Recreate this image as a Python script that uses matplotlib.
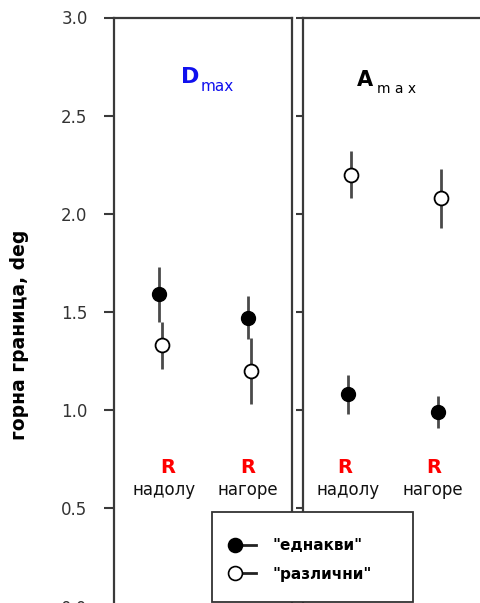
import matplotlib
matplotlib.use("Agg")
import matplotlib.pyplot as plt
from matplotlib.lines import Line2D
from matplotlib.patches import Rectangle
from matplotlib.legend_handler import HandlerBase

plt.rcParams['font.family'] = ['DejaVu Sans']

# ---- data ----
panels = ["Dmax", "Amax"]
conditions = ["надолу", "нагоре"]
same_vals = {"Dmax": [1.59, 1.47], "Amax": [1.08, 0.99]}
same_err = {"Dmax": [0.14, 0.11], "Amax": [0.10, 0.08]}
diff_vals = {"Dmax": [1.33, 1.20], "Amax": [2.20, 2.08]}
diff_err = {"Dmax": [0.12, 0.17], "Amax": [0.12, 0.15]}
yticks = [0.0, 0.5, 1.0, 1.5, 2.0, 2.5, 3.0]
ytick_labels = ["0.0", "0.5", "1.0", "1.5", "2.0", "2.5", "3.0"]
legend_labels = ['"еднакви"', '"различни"']

W, H = 480, 603
fig = plt.figure(figsize=(W / 100, H / 100), dpi=100)

spine_col = "#3a3a3a"
err_col = "#4a4a4a"

def fx(px):
    return px / W

def fy(py):
    return 1 - py / H

ax_bottom = fy(606.5)
ax_height = (606.5 - 17.5) / H
ax1 = fig.add_axes([fx(114), ax_bottom, fx(292) - fx(114), ax_height])
ax2 = fig.add_axes([fx(303), ax_bottom, fx(483) - fx(303), ax_height])

xs = [0, 1]
off = 0.035
for ax, name in zip([ax1, ax2], panels):
    ax.set_xlim(-0.5, 1.5)
    ax.set_ylim(0, 3.0)
    ax.set_xticks([])
    ax.set_yticks(yticks)
    for s in ax.spines.values():
        s.set_color(spine_col)
        s.set_linewidth(1.6)
    ax.spines['bottom'].set_visible(False)
    ax.errorbar([x + off for x in xs], diff_vals[name], yerr=diff_err[name],
                fmt='o', ms=10, mfc='white', mec='black', mew=1.3,
                ecolor=err_col, elinewidth=2.0, capsize=0, zorder=3)
    ax.errorbar(xs, same_vals[name], yerr=same_err[name],
                fmt='o', ms=10, mfc='black', mec='black',
                ecolor=err_col, elinewidth=2.0, capsize=0, zorder=4)

ax1.set_yticklabels(ytick_labels, fontsize=12, color="#333333")
ax1.tick_params(axis='y', direction='out', length=7, width=1.5,
                color=spine_col, pad=12)
ax2.set_yticklabels([])
ax2.tick_params(axis='y', direction='out', length=5, width=1.5,
                color=spine_col)
ax2.spines['right'].set_visible(False)

# condition labels
r_dx = {"Dmax": [0.1, 0.0], "Amax": [-0.04, 0.95 - 1]}
t_dx = {"Dmax": [0.06, 0.0], "Amax": [0.0, 0.94 - 1]}
for ax, name in zip([ax1, ax2], panels):
    for i, c in enumerate(conditions):
        ax.text(xs[i] + r_dx[name][i], 0.68, "R", color="red", fontsize=14,
                fontweight='bold', ha='center', va='baseline')
        ax.text(xs[i] + t_dx[name][i], 0.57, c, color="#111111", fontsize=12,
                ha='center', va='baseline')

# panel titles
fig.text(fx(181), fy(83), "D", color="#1010ee", fontsize=16,
         fontweight='bold', ha='left', va='baseline')
fig.text(fx(201), fy(91), "max", color="#1010ee", fontsize=11,
         ha='left', va='baseline')
fig.text(fx(357), fy(86), "A", color="black", fontsize=15,
         fontweight='bold', ha='left', va='baseline')
fig.text(fx(377), fy(93), "m a x", color="black", fontsize=10,
         ha='left', va='baseline')

# y label
fig.text(fx(20), fy(335), "горна граница, deg", rotation=90, fontsize=13.5,
         fontweight='bold', ha='center', va='center')

# legend
class LeftMarkerHandler(HandlerBase):
    def create_artists(self, legend, orig, xdescent, ydescent, width, height,
                       fontsize, trans):
        y = height / 2 - ydescent
        ln = Line2D([-xdescent + 6, width - xdescent], [y, y],
                    color='#222222', lw=2.0)
        mk = Line2D([-xdescent + 6], [y], marker='o', ms=10,
                    mfc=orig.get_markerfacecolor(), mec='black', mew=1.2,
                    linestyle='none')
        ln.set_transform(trans)
        mk.set_transform(trans)
        return [ln, mk]

box = Rectangle((fx(212), fy(602)), fx(413) - fx(212), fy(512) - fy(602),
                transform=fig.transFigure, facecolor='white',
                edgecolor='#333333', lw=1.3, zorder=5)
fig.add_artist(box)
h1 = Line2D([], [], marker='o', mfc='black', mec='black')
h2 = Line2D([], [], marker='o', mfc='white', mec='black')
leg = fig.legend([h1, h2], legend_labels, loc='upper left',
                 bbox_to_anchor=(fx(227), fy(538)), frameon=False,
                 handler_map={Line2D: LeftMarkerHandler()},
                 handlelength=1.9, handletextpad=1.05, labelspacing=0.9,
                 borderpad=0, borderaxespad=0,
                 prop={'size': 11, 'weight': 'bold'})
leg.set_zorder(6)

fig.savefig("out.png", dpi=100)
